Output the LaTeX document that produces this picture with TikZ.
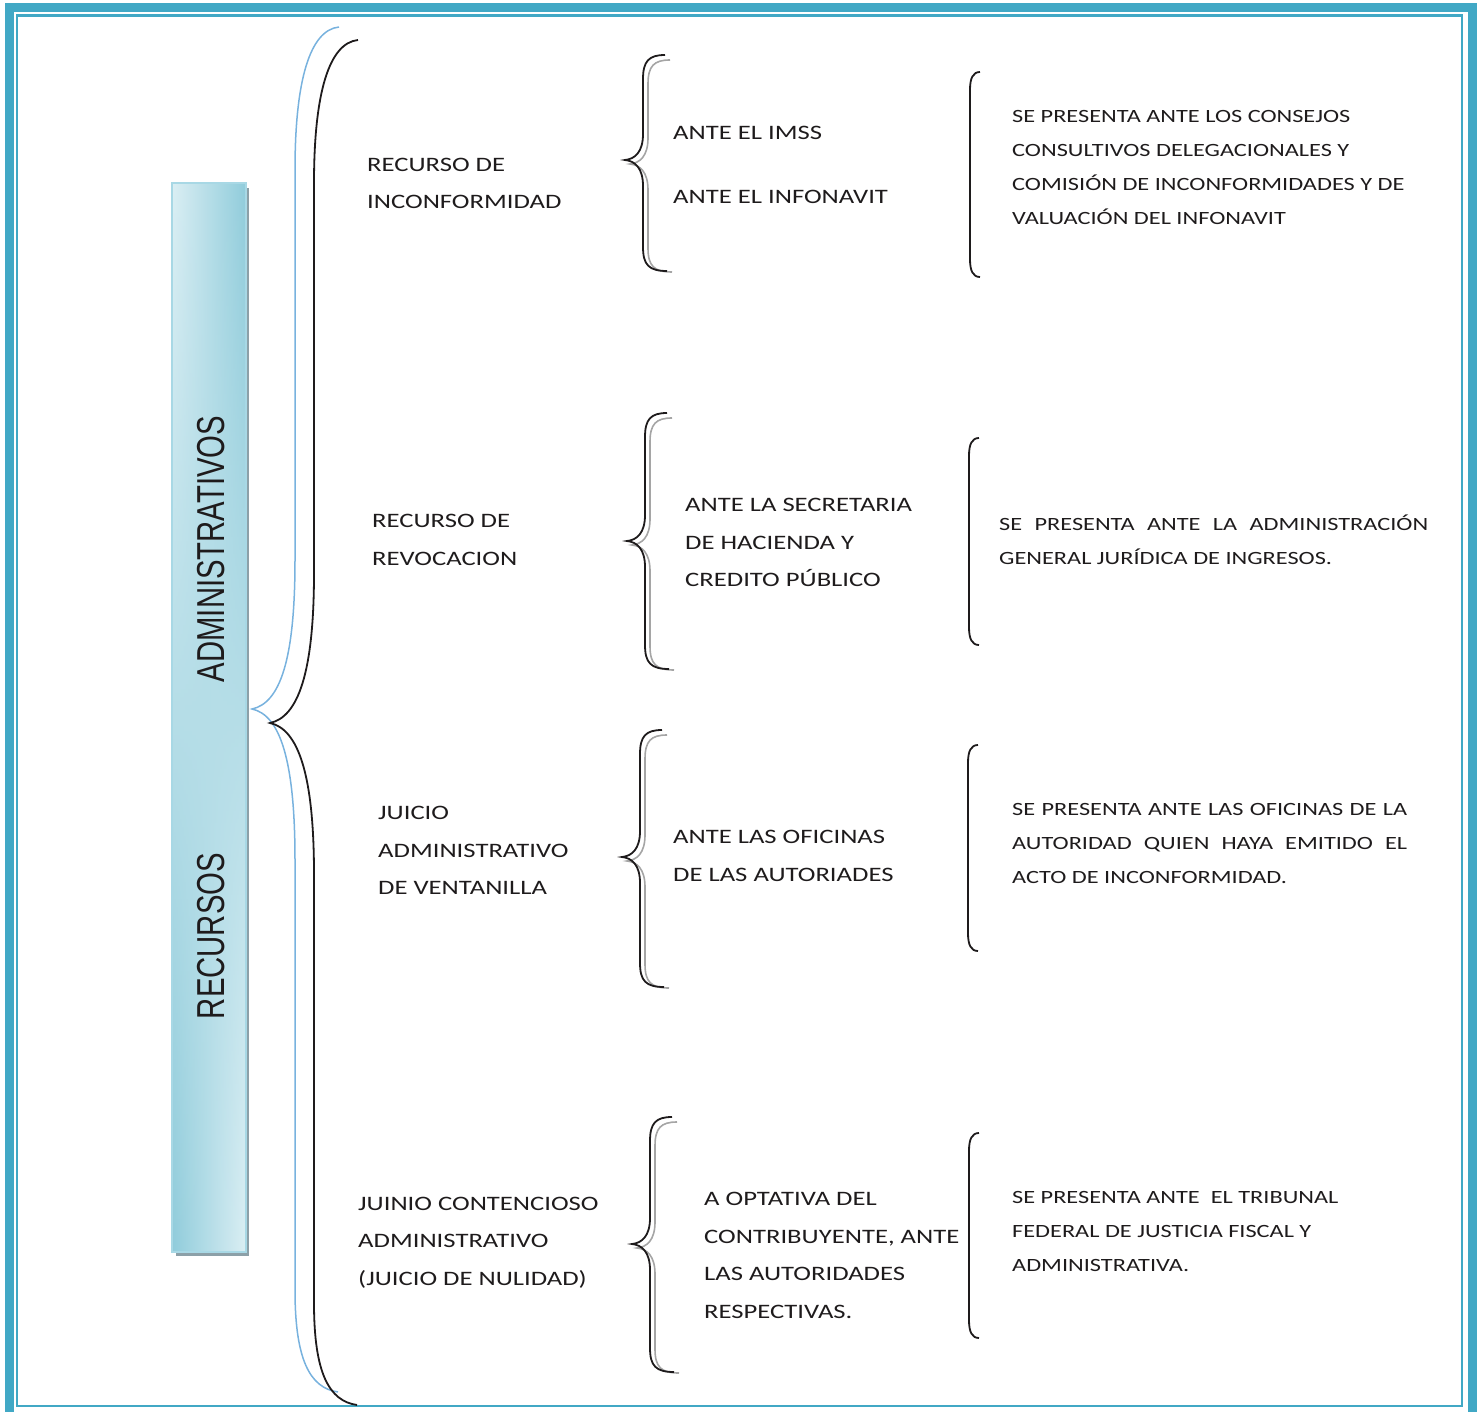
\documentclass[tikz,border=0pt]{standalone}
\usepackage{fontspec}
\setmainfont{Carlito}[FakeStretch=1.3]
\newfontfamily\barfont{Liberation Sans}
\usetikzlibrary{fadings}

\definecolor{marco}{RGB}{65,168,197}
\definecolor{txt}{RGB}{30,27,28}
\definecolor{azul}{RGB}{120,178,222}
\definecolor{gris}{RGB}{165,165,165}
\definecolor{barclaro}{RGB}{219,239,244}
\definecolor{baroscuro}{RGB}{144,204,219}
\definecolor{barborde}{RGB}{168,216,229}
\definecolor{barsombra}{RGB}{140,160,168}

% llave: estilo, x punta, y arriba, y punta, y abajo
\newcommand{\llave}[5]{%
  \draw[#1] ({#2+40},#3) .. controls ({#2+24},#3) and ({#2+18},{#3+6}) .. ({#2+18},{#3+24})
    -- ({#2+18},{#4-26}) .. controls ({#2+18},{#4-8}) and ({#2+10},{#4-1}) .. (#2,#4)
    .. controls ({#2+10},{#4+1}) and ({#2+18},{#4+8}) .. ({#2+18},{#4+26})
    -- ({#2+18},{#5-24}) .. controls ({#2+18},{#5-6}) and ({#2+24},#5) .. ({#2+42},#5);}
% corchete: x, y arriba, y abajo
\newcommand{\corchete}[3]{%
  \draw[negro] ({#1+10},#2) .. controls ({#1+3},#2) and (#1,{#2+6}) .. (#1,{#2+18})
    -- (#1,{#3-18}) .. controls (#1,{#3-6}) and ({#1+3},#3) .. ({#1+10},#3);}

\begin{document}
\begin{tikzpicture}[x=1pt, y=-1pt,
    negro/.style={draw=txt, line width=1.8pt},
    sombra/.style={draw=gris, line width=1.6pt},
    causa/.style={anchor=west, align=left, inner sep=0pt, text=txt,
                  font=\fontsize{20.5}{37.5}\selectfont},
    ante/.style={causa},
    desc/.style={anchor=west, align=left, inner sep=0pt, text=txt,
                 font=\fontsize{18.7}{33.7}\selectfont},
    just/.style={desc, align=justify},
    vert/.style={rotate=90, inner sep=0pt, text=txt, font=\barfont\fontsize{29.3}{30}\selectfont}]
  \useasboundingbox (0,0) rectangle (1478,1412);
  \clip (0,0) rectangle (1478,1412);

  % marco
  \draw[marco, line width=9pt] (9.5,7.5) rectangle (1472.5,1416);
  \draw[marco, line width=2.5pt] (17,15.5) rectangle (1462,1406);

  % barra
  \fill[barsombra] (176,188) rectangle (249,1256);
  \shade[left color=barclaro, right color=baroscuro] (172,183) rectangle (246,1252);
  \shade[left color=baroscuro, right color=barclaro, path fading=north] (172,183) rectangle (246,1252);
  \draw[barborde, line width=1.2pt] (172,183) rectangle (246,1252);
  \node[vert] (admin) at (211,549) {\scalebox{1}[1.33]{ADMINISTRATIVOS}};
  \node[vert] (recur) at (211,936) {\scalebox{1}[1.33]{RECURSOS}};

  % llave grande
  \draw[azul, line width=1.5pt] (339,27) .. controls (310,30) and (295,80) .. (295,170)
    -- (295,560) .. controls (295,660) and (280,703) .. (252,709)
    .. controls (280,715) and (295,760) .. (295,860)
    -- (295,1290) .. controls (295,1360) and (310,1388) .. (338,1392);
  \draw[negro] (358,40) .. controls (329,43) and (314,93) .. (314,183)
    -- (314,573) .. controls (314,673) and (298,717) .. (270,723)
    .. controls (298,729) and (314,774) .. (314,874)
    -- (314,1303) .. controls (314,1373) and (329,1401) .. (357,1405);

  % recursos
  \node[causa] (inconf) at (367,183.5) {\fontsize{20.5}{33}\selectfont RECURSO DE\\INCONFORMIDAD};
  \node[causa] (revoc) at (372,540) {RECURSO DE\\REVOCACION};
  \node[causa] (juicio) at (378,850.5) {JUICIO\\ADMINISTRATIVO\\DE VENTANILLA};
  \node[causa] (nulidad) at (358,1242.5) {JUINIO CONTENCIOSO\\ADMINISTRATIVO\\(JUICIO DE NULIDAD)};

  % ante quien
  \llave{sombra}{630}{60}{164}{272}
  \llave{negro}{625}{55}{160}{271}
  \node[ante] (imss) at (673,165) {ANTE EL IMSS\\[26.5pt]ANTE EL INFONAVIT};
  \llave{sombra}{632}{418}{545}{670}
  \llave{negro}{627}{413}{541}{669}
  \node[ante] (shcp) at (685,542.5) {ANTE LA SECRETARIA\\DE HACIENDA Y\\CREDITO PÚBLICO};
  \llave{sombra}{627}{735}{861}{988}
  \llave{negro}{622}{730}{857}{987}
  \node[ante] (ofic) at (673,856) {ANTE LAS OFICINAS\\DE LAS AUTORIADES};
  \llave{sombra}{637}{1122}{1248}{1373}
  \llave{negro}{632}{1117}{1244}{1372}
  \node[ante] (optat) at (704,1255.5) {A OPTATIVA DEL\\CONTRIBUYENTE, ANTE\\LAS AUTORIDADES\\RESPECTIVAS.};

  % donde se presenta
  \corchete{970}{72}{277}
  \node[desc] (consejos) at (1012,167.5) {SE PRESENTA ANTE LOS CONSEJOS\\CONSULTIVOS DELEGACIONALES Y\\COMISIÓN DE INCONFORMIDADES Y DE\\VALUACIÓN DEL INFONAVIT};
  \corchete{969}{438}{645}
  \node[just, text width=429pt] (agji) at (999,539.5) {SE PRESENTA ANTE LA ADMINISTRACIÓN\linebreak GENERAL JURÍDICA DE INGRESOS.};
  \corchete{968}{745}{951}
  \node[just, text width=395pt] (autor) at (1012,843.5) {SE PRESENTA ANTE LAS OFICINAS DE LA\linebreak AUTORIDAD QUIEN HAYA EMITIDO EL\linebreak ACTO DE INCONFORMIDAD.};
  \corchete{969}{1133}{1338}
  \node[desc] (tfjfa) at (1012,1231.5) {SE PRESENTA ANTE~ EL TRIBUNAL\\FEDERAL DE JUSTICIA FISCAL Y\\ADMINISTRATIVA.};
\end{tikzpicture}
\end{document}
